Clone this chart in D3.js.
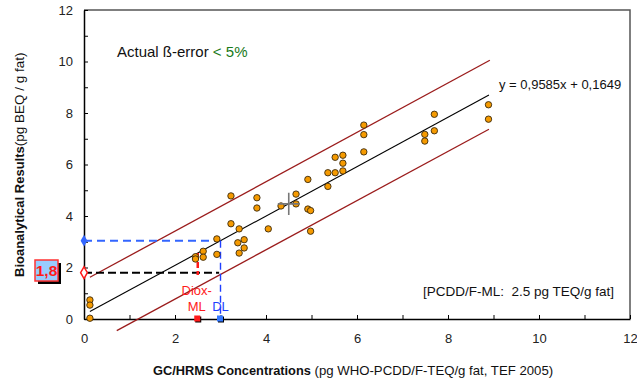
<!DOCTYPE html>
<html>
<head>
<meta charset="utf-8">
<script src="https://cdn.jsdelivr.net/npm/d3@7"></script>
<style>
  html, body { margin: 0; padding: 0; background: #fff; }
  svg { display: block; }
  text { font-family: "Liberation Sans", Arial, sans-serif; }
</style>
</head>
<body>
<svg id="chart" width="637" height="383"></svg>
<script>
// GC/HRMS concentration (x) vs. bioanalytical result (y) per sample
const gcX = [0.13, 0.13, 0.13, 2.45, 2.45, 2.62, 2.62, 2.92, 2.92, 3.23, 3.23, 3.41, 3.38, 3.52,
             3.52, 3.41, 3.80, 3.80, 4.05, 4.33, 4.66, 4.66, 4.92, 4.92, 4.98, 4.98, 5.36, 5.36,
             5.52, 5.52, 5.69, 5.69, 5.69, 6.15, 6.15, 6.15, 7.49, 7.49, 7.70, 7.70, 8.89, 8.89];
const bioY = [0.74, 0.54, 0.03, 2.42, 2.33, 2.63, 2.40, 3.11, 2.51, 4.78, 3.70, 3.50, 2.96, 3.08,
              2.76, 2.56, 4.71, 4.31, 3.50, 4.39, 4.85, 4.47, 5.42, 4.27, 4.21, 3.41, 5.68, 5.15,
              6.28, 5.68, 6.36, 6.05, 5.75, 7.53, 7.16, 6.49, 7.17, 6.91, 7.95, 7.31, 8.32, 7.76];

// linear fit y = slope * x + intercept
const slope = 0.9585;
const intercept = 0.1649;
const fitRange = [0.13, 8.9];

// prediction band end points [x, y]
const upperBand = [[0.13, 1.62], [8.92, 10.05]];
const lowerBand = [[0.72, -0.45], [8.9, 7.37]];

// mean point with its spread
const meanPoint = [4.5, 4.47];
const meanSpread = [0.24, 0.43];

// thresholds
const maxLevel = 2.5;      // Diox-ML
const decisionLimit = 3.0; // DL
const cutOff = 1.8;

const axisTicks = [0, 1, 2, 3, 4, 5, 6, 7, 8, 9, 10, 11, 12];

const svg = d3.select("#chart");
const x = d3.scaleLinear().domain([0, 12]).range([84, 630]);
const y = d3.scaleLinear().domain([0, 12]).range([319, 10]);
const fit = v => slope * v + intercept;
const line = d3.line().x(d => x(d[0])).y(d => y(d[1]));

// plot frame (top and right)
svg.append("path")
  .attr("d", `M${x(0)},${y(12)}H${x(12)}V${y(0)}`)
  .attr("fill", "none").attr("stroke", "#555").attr("stroke-width", 1.5);

// axes
const xAxis = d3.axisBottom(x).tickValues(axisTicks)
  .tickSizeInner(-4).tickSizeOuter(0).tickPadding(15)
  .tickFormat(d => d % 2 === 0 ? d : "");
const yAxis = d3.axisLeft(y).tickValues(axisTicks)
  .tickSizeInner(-4).tickSizeOuter(0).tickPadding(11)
  .tickFormat(d => d % 2 === 0 ? d : "");

const gx = svg.append("g").attr("transform", `translate(0,${y(0)})`).call(xAxis);
const gy = svg.append("g").attr("transform", `translate(${x(0)},0)`).call(yAxis);
[gx, gy].forEach(g => {
  g.selectAll("text").attr("font-size", 13).attr("fill", "#222")
    .attr("font-family", "Liberation Sans, Arial, sans-serif");
  g.select(".domain").attr("stroke", "#000").attr("stroke-width", 1.5);
  g.selectAll(".tick line").attr("stroke", "#000");
});

// prediction bands
[upperBand, lowerBand].forEach(b => {
  svg.append("path").attr("d", line(b))
    .attr("fill", "none").attr("stroke", "#9b1c1c").attr("stroke-width", 1.3);
});

// regression line
svg.append("path").attr("d", line(fitRange.map(v => [v, fit(v)])))
  .attr("fill", "none").attr("stroke", "#000").attr("stroke-width", 1.1);

// decision limit guides (blue)
const dlY = fit(decisionLimit);
svg.append("path").attr("d", line([[0, dlY], [decisionLimit, dlY]]))
  .attr("fill", "none").attr("stroke", "#3366ff").attr("stroke-width", 2)
  .attr("stroke-dasharray", "8,5");
svg.append("path").attr("d", line([[decisionLimit, dlY], [decisionLimit, 0]]))
  .attr("fill", "none").attr("stroke", "#1f3fff").attr("stroke-width", 1.4)
  .attr("stroke-dasharray", "7,4");

// cut-off guide (black)
svg.append("path").attr("d", line([[0, cutOff], [decisionLimit - 0.03, cutOff]]))
  .attr("fill", "none").attr("stroke", "#000").attr("stroke-width", 2)
  .attr("stroke-dasharray", "8,4");

// maximum level guide (red)
svg.append("path").attr("d", line([[maxLevel, 2.56], [maxLevel, 1.71]]))
  .attr("fill", "none").attr("stroke", "#ff1a1a").attr("stroke-width", 2.5)
  .attr("stroke-dasharray", "6,3");

// data points
svg.append("g").selectAll("circle")
  .data(gcX.map((v, i) => [v, bioY[i]]))
  .join("circle")
  .attr("cx", d => x(d[0])).attr("cy", d => y(d[1])).attr("r", 3.2)
  .attr("fill", "#f59a00").attr("stroke", "#3a2a10").attr("stroke-width", 0.9);

// mean cross
svg.append("path")
  .attr("d", `M${x(meanPoint[0] - meanSpread[0])},${y(meanPoint[1])}H${x(meanPoint[0] + meanSpread[0])}` +
             `M${x(meanPoint[0])},${y(meanPoint[1] + meanSpread[1])}V${y(meanPoint[1] - meanSpread[1])}`)
  .attr("stroke", "#777").attr("stroke-width", 1.6).attr("fill", "none");

// markers on axes
const diamond = d3.symbol().type(d3.symbolDiamond).size(40);
svg.append("path").attr("d", diamond())
  .attr("transform", `translate(${x(0)},${y(dlY)})`).attr("fill", "#3366ff");
svg.append("path").attr("d", diamond())
  .attr("transform", `translate(${x(0)},${y(cutOff)})`)
  .attr("fill", "#fff").attr("stroke", "#ff1a1a").attr("stroke-width", 1.5);

[[maxLevel, "#ff1a1a"], [decisionLimit, "#3377ff"]].forEach(([v, c]) => {
  svg.append("rect").attr("x", x(v) - 2.5).attr("y", y(0) - 2.5).attr("width", 6).attr("height", 6).attr("fill", "#000");
  svg.append("rect").attr("x", x(v) - 3.5).attr("y", y(0) - 3.5).attr("width", 6).attr("height", 6).attr("fill", c);
});

// labels under the guides
svg.append("text").attr("x", x(maxLevel) - 1).attr("y", 295).attr("text-anchor", "middle")
  .attr("font-size", 13).attr("fill", "#ff1a1a").text("Diox-");
svg.append("text").attr("x", x(maxLevel) - 1).attr("y", 311).attr("text-anchor", "middle")
  .attr("font-size", 13).attr("fill", "#ff1a1a").text("ML");
svg.append("text").attr("x", x(decisionLimit)).attr("y", 311).attr("text-anchor", "middle")
  .attr("font-size", 13).attr("fill", "#1f3fff").text("DL");

// cut-off value box
const bx = 35, by = 260, bw = 23, bh = 21;
svg.append("rect").attr("x", bx + 3).attr("y", by + 3).attr("width", bw).attr("height", bh).attr("fill", "#000");
svg.append("rect").attr("x", bx).attr("y", by).attr("width", bw).attr("height", bh)
  .attr("fill", "#99ccff").attr("stroke", "#ff3333").attr("stroke-width", 1.5);
svg.append("text").attr("x", bx + bw / 2).attr("y", by + 16).attr("text-anchor", "middle")
  .attr("font-family", "Liberation Serif, Times New Roman, serif").attr("font-weight", "bold")
  .attr("font-size", 15.5).attr("fill", "#ff1a1a").text(String(cutOff).replace(".", ","));

// annotations
const beta = svg.append("text").attr("x", 117).attr("y", 57)
  .attr("font-size", 15).attr("fill", "#111");
beta.append("tspan").text("Actual ß-error ");
beta.append("tspan").attr("fill", "#1a7a1a").text("< 5%");

svg.append("text").attr("x", 499).attr("y", 89).attr("font-size", 13).attr("fill", "#111")
  .text(`y = ${String(slope).replace(".", ",")}x + ${String(intercept).replace(".", ",")}`);

svg.append("text").attr("x", 423).attr("y", 296).attr("font-size", 13.5).attr("fill", "#111")
  .style("white-space", "pre").text("[PCDD/F-ML:  2.5 pg TEQ/g fat]");

// axis titles
const xt = svg.append("text").attr("x", 153).attr("y", 375).attr("font-size", 12.8).attr("fill", "#111");
xt.append("tspan").attr("font-weight", "bold").text("GC/HRMS Concentrations");
xt.append("tspan").attr("font-size", 13.2).text(" (pg WHO-PCDD/F-TEQ/g fat, TEF 2005)");

const yt = svg.append("text").attr("transform", "translate(24,277) rotate(-90)")
  .attr("font-size", 13).attr("fill", "#111");
yt.append("tspan").attr("font-weight", "bold").text("Bioanalytical Results");
yt.append("tspan").attr("font-size", 13.5).text("(pg BEQ / g fat)");
</script>
</body>
</html>
